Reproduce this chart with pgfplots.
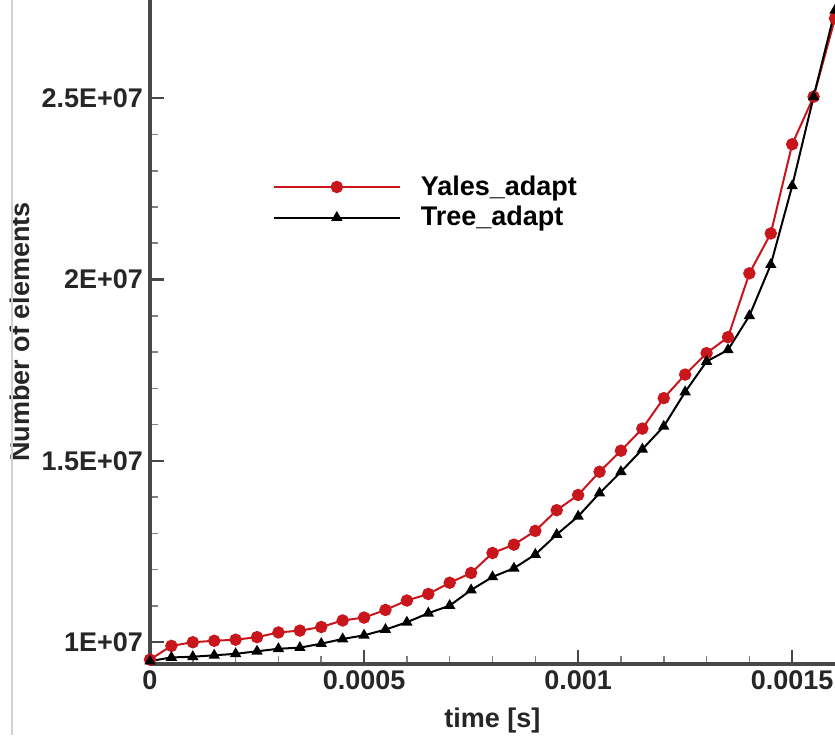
\documentclass[border=0pt]{standalone}
\usepackage{fontspec}
\setmainfont{Liberation Sans}
\usepackage{pgfplots}
\pgfplotsset{compat=1.18}
\definecolor{redline}{RGB}{200,22,28}
\definecolor{axisgray}{RGB}{72,72,72}
\begin{document}
\begin{tikzpicture}
\begin{axis}[
  scale only axis,
  width=342.5pt, height=332pt,
  xmin=0, xmax=0.0016,
  ymin=9.4e6, ymax=2.7707e7,
  axis x line*=bottom, axis y line*=left,
  axis line style={axisgray, line width=1.8pt},
  tick align=inside,
  major tick length=7pt, minor tick length=4pt,
  every tick/.style={axisgray, line width=1.2pt},
  minor tick style={line width=0.8pt, axisgray!70},
  scaled ticks=false,
  xtick={0,0.0005,0.001,0.0015},
  xticklabels={0,0.0005,0.001,0.0015},
  ytick={1e7,1.5e7,2e7,2.5e7},
  yticklabels={1E+07,1.5E+07,2E+07,2.5E+07},
  minor x tick num=4, minor y tick num=4,
  tick label style={font=\fontsize{13.5}{16}\selectfont\bfseries, text=black!85},
  xlabel={time [s]}, ylabel={Number of elements},
  label style={font=\fontsize{13.5}{16}\selectfont\bfseries, text=black!85},
  xlabel style={at={(axis description cs:0.5,-0.085)}, anchor=center},
  ylabel style={at={(axis description cs:-0.19,0.5)}, anchor=center, rotate=0},
  clip=false,
  legend cell align=left,
  legend style={draw=none, fill=none, at={(axis description cs:0.17,0.748)}, anchor=north west,
    font=\fontsize{13.5}{16}\selectfont\bfseries, row sep=0pt},
  legend image code/.code={
    \draw[mark repeat=2, mark phase=2, #1] plot coordinates {(0pt,0pt) (31.5pt,0pt) (63pt,0pt)};
    \path (71pt,0pt);
  },
]
\addplot[redline, line width=1pt, mark=*, mark size=2.6pt, mark options={fill=redline, draw=redline}] coordinates {
(0,9.52e6) (0.00005,9.9e6) (0.0001,1.0e7) (0.00015,1.004e7) (0.0002,1.007e7)
(0.00025,1.014e7) (0.0003,1.027e7) (0.00035,1.032e7) (0.0004,1.042e7) (0.00045,1.06e7)
(0.0005,1.068e7) (0.00055,1.089e7) (0.0006,1.115e7) (0.00065,1.133e7) (0.0007,1.164e7)
(0.00075,1.191e7) (0.0008,1.246e7) (0.00085,1.269e7) (0.0009,1.307e7) (0.00095,1.364e7)
(0.001,1.406e7) (0.00105,1.47e7) (0.0011,1.528e7) (0.00115,1.589e7) (0.0012,1.673e7)
(0.00125,1.738e7) (0.0013,1.797e7) (0.00135,1.841e7) (0.0014,2.017e7) (0.00145,2.127e7)
(0.0015,2.373e7) (0.00155,2.504e7) (0.0016,2.72e7)
};
\addlegendentry{Yales\_adapt}
\addplot[black, line width=1pt, mark=triangle*, mark size=2.3pt, mark options={fill=black}] coordinates {
(0,9.48e6) (0.00005,9.58e6) (0.0001,9.6e6) (0.00015,9.64e6) (0.0002,9.68e6)
(0.00025,9.75e6) (0.0003,9.82e6) (0.00035,9.85e6) (0.0004,9.96e6) (0.00045,1.009e7)
(0.0005,1.019e7) (0.00055,1.035e7) (0.0006,1.055e7) (0.00065,1.08e7) (0.0007,1.101e7)
(0.00075,1.144e7) (0.0008,1.18e7) (0.00085,1.204e7) (0.0009,1.242e7) (0.00095,1.297e7)
(0.001,1.347e7) (0.00105,1.411e7) (0.0011,1.47e7) (0.00115,1.532e7) (0.0012,1.595e7)
(0.00125,1.69e7) (0.0013,1.774e7) (0.00135,1.806e7) (0.0014,1.9e7) (0.00145,2.041e7)
(0.0015,2.258e7) (0.00155,2.504e7) (0.0016,2.742e7)
};
\addlegendentry{Tree\_adapt}
\end{axis}
\draw[black!18, line width=1.2pt] ([xshift=-69pt, yshift=-35.5pt]current axis.south west) -- ([xshift=-69pt, yshift=10pt]current axis.north west);
\pgfresetboundingbox
\path[use as bounding box] ([xshift=-75pt, yshift=-39pt]current axis.south west) rectangle (current axis.north east);
\end{tikzpicture}
\end{document}
